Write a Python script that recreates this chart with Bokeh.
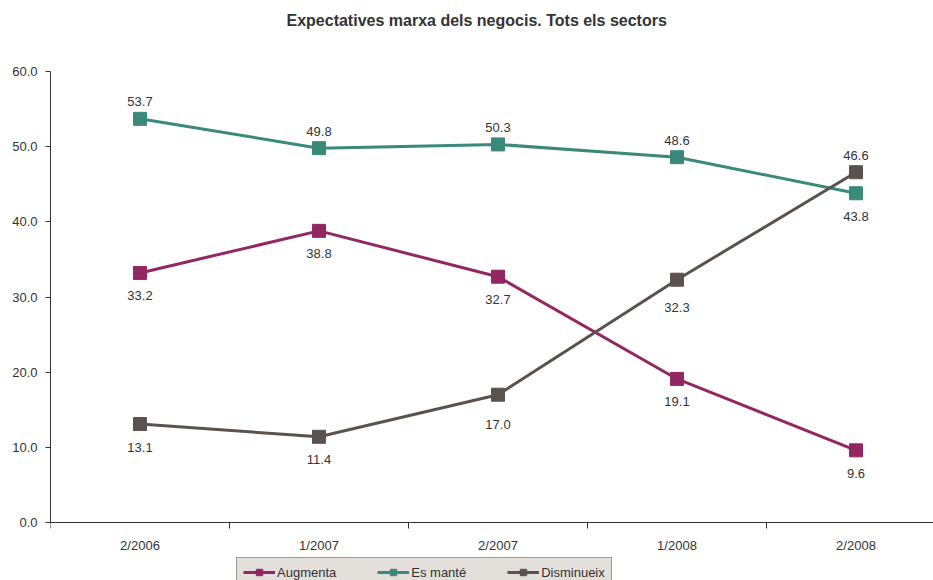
from bokeh.plotting import figure
from bokeh.models import (ColumnDataSource, Range1d, FixedTicker, Legend, LegendItem,
                          LabelSet, NumeralTickFormatter, Title)
from bokeh.core.properties import value
from bokeh.embed import file_html
from bokeh.resources import INLINE

periods = ["2/2006", "1/2007", "2/2007", "1/2008", "2/2008"]
augmenta = [33.2, 38.8, 32.7, 19.1, 9.6]
es_mante = [53.7, 49.8, 50.3, 48.6, 43.8]
disminueix = [13.1, 11.4, 17.0, 32.3, 46.6]
y_ticks = [0, 10, 20, 30, 40, 50, 60]

x = list(range(len(periods)))

FONT = "Liberation Sans"
TXT = "#333333"

p = figure(width=933, height=580, output_backend="svg", toolbar_location=None,
           x_range=Range1d(-0.5, 4.433), y_range=Range1d(-7.716, 60),
           min_border_left=50, min_border_right=0, min_border_top=71, min_border_bottom=0)
p.background_fill_color = "white"
p.border_fill_color = "white"
p.outline_line_color = None

p.title.text = "Expectatives marxa dels negocis. Tots els sectors"
p.title.align = "left"
p.title.offset = 236
p.title.standoff = 10
p.title.text_font = FONT
p.title.text_font_size = "16px"
p.title.text_font_style = "bold"
p.title.text_color = TXT

# spacer between title and plot area
p.add_layout(Title(text=" ", text_font_size="2px", standoff=34), "above")

# axes
p.xaxis.fixed_location = 0
p.yaxis.bounds = (0, 60)
p.yaxis.ticker = FixedTicker(ticks=y_ticks)
p.yaxis.formatter = NumeralTickFormatter(format="0.0")
p.xaxis.ticker = FixedTicker(ticks=x, minor_ticks=[i - 0.5 for i in range(len(periods) + 1)])
p.xaxis.major_label_overrides = {i: s for i, s in enumerate(periods)}
p.xaxis.minor_tick_line_color = "#333333"
p.xaxis.minor_tick_out = 6
p.xaxis.minor_tick_in = 0
p.xaxis.major_tick_out = 6
p.xaxis.major_label_standoff = 9
p.yaxis.major_tick_out = 5
p.yaxis.major_tick_in = 0
p.yaxis.minor_tick_line_color = None
p.yaxis.major_label_standoff = 8
for ax in (p.xaxis, p.yaxis):
    ax.axis_line_color = "#333333"
    ax.axis_line_width = 1
    ax.major_label_text_font = FONT
    ax.major_label_text_font_size = "13px"
    ax.major_label_text_color = TXT
p.yaxis.major_tick_line_color = "#333333"
p.xaxis.major_tick_line_color = None

p.xgrid.grid_line_color = None
p.ygrid.ticker = FixedTicker(ticks=[60])
p.ygrid.grid_line_color = "#b3aaa6"
p.ygrid.grid_line_width = 2

series = [
    ("Augmenta", augmenta, "#932762", [-23, -23, -23, -23, -23]),
    ("Es manté", es_mante, "#3a897a", [17, 17, 17, 17, -23]),
    ("Disminueix", disminueix, "#5b524e", [-23, -23, -30, -28, 17]),
]

items = []
for name, vals, col, offs in series:
    src = ColumnDataSource(dict(x=x, y=vals, lab=[f"{v:.1f}" for v in vals], off=offs))
    r1 = p.line("x", "y", source=src, line_color=col, line_width=3)
    r2 = p.scatter("x", "y", source=src, marker="square", size=13, fill_color=col, line_color=col)
    labels = LabelSet(x="x", y="y", text="lab", source=src, y_offset="off",
                      text_align="center", text_baseline="middle",
                      text_font=value(FONT), text_font_size=value("13px"), text_color=value(TXT))
    p.add_layout(labels)
    items.append(LegendItem(label=name, renderers=[r1, r2]))

legend = Legend(items=items, orientation="horizontal", location=(186, -7),
                background_fill_color="#e3dfdb", background_fill_alpha=1,
                border_line_color="#555555", border_line_width=1,
                label_text_font=FONT, label_text_font_size="13px", label_text_color=TXT,
                glyph_width=32, glyph_height=16, label_height=16, label_standoff=2,
                spacing=41, padding=6, margin=0)
p.add_layout(legend, "center")

open("out.html", "w").write(file_html(p, INLINE))
